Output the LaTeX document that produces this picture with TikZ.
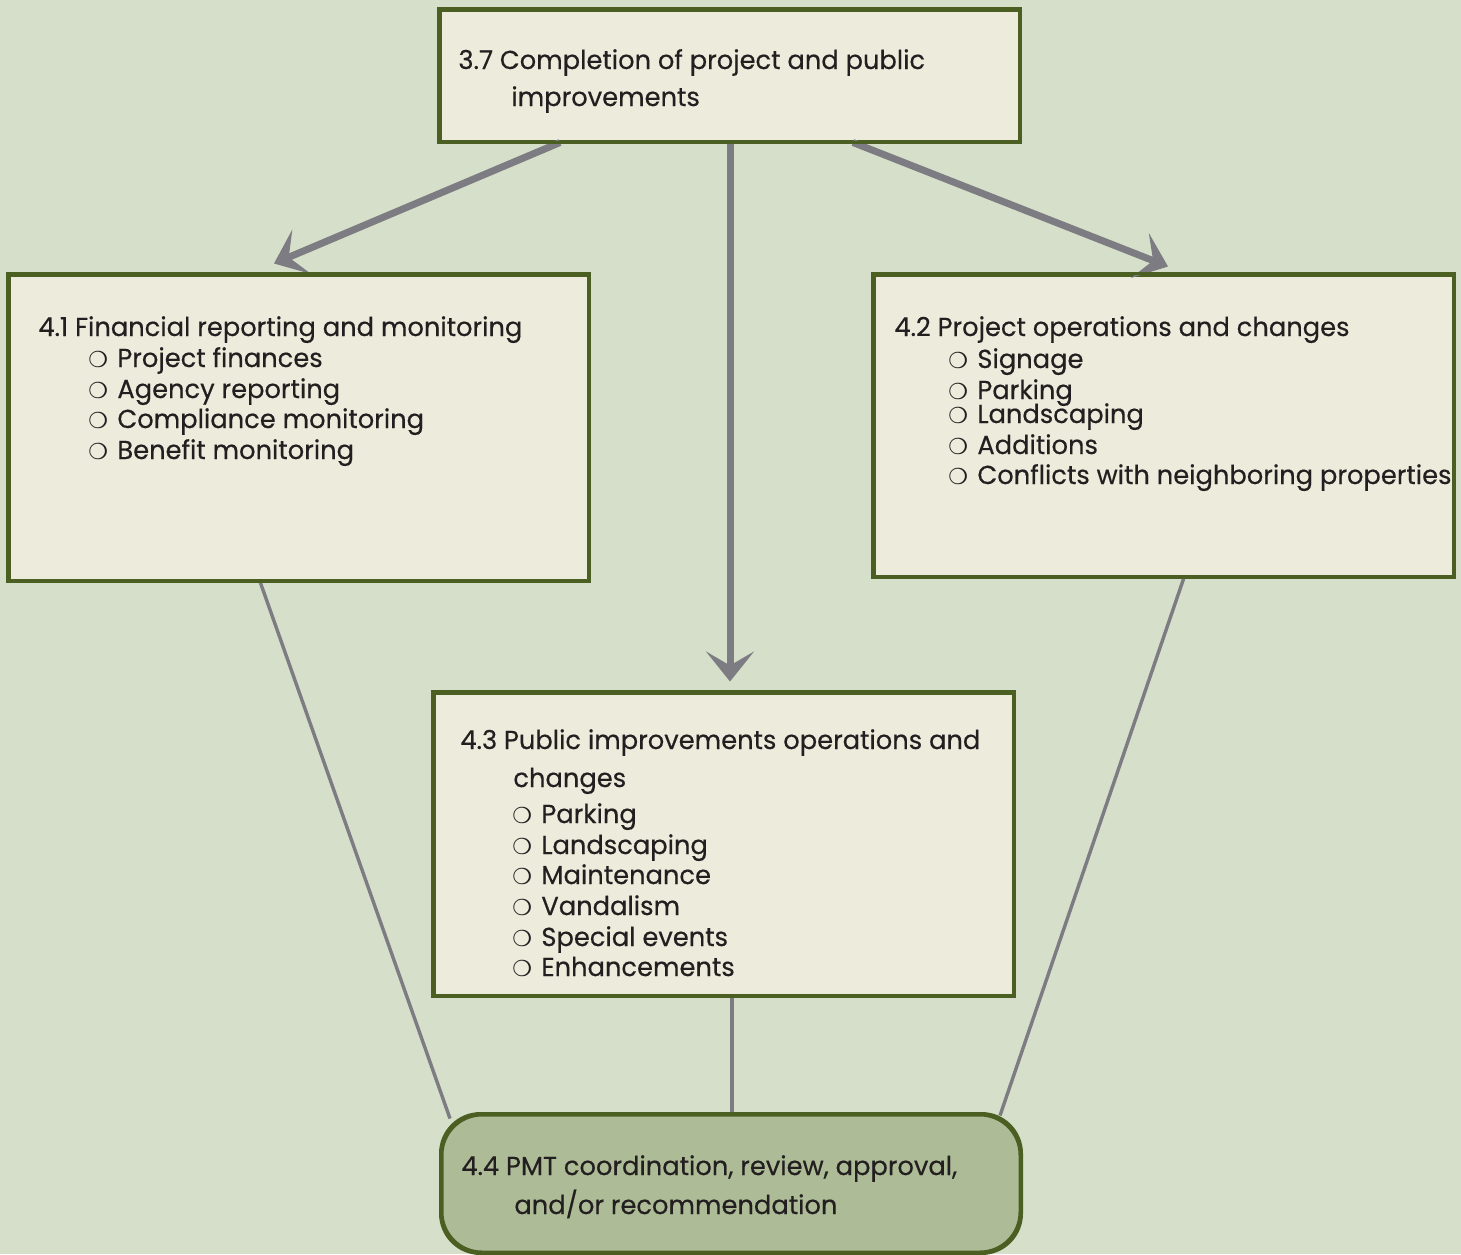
\documentclass[tikz,border=0pt]{standalone}
\usepackage{fontspec}
\setmainfont[FakeStretch=0.99,FakeBold=0.4]{Poppins}
\newfontfamily\symfont{DejaVu Sans}
\usetikzlibrary{arrows.meta}
\definecolor{bgc}{HTML}{D6DFC9}
\definecolor{boxfill}{HTML}{EDECDC}
\definecolor{boxline}{HTML}{4B5F23}
\definecolor{arrgray}{HTML}{7C7C82}
\definecolor{pmtfill}{HTML}{ADBC96}
\definecolor{txtc}{HTML}{231F20}
\newcommand\bitem[1]{\makebox[14.5pt][l]{\symfont\fontsize{11}{11}\selectfont ❍}#1}
\begin{document}
\begin{tikzpicture}[x=0.5pt,y=-0.5pt,
  boxnode/.style={draw=boxline,line width=1.5pt,fill=boxfill,inner sep=0pt,minimum width=289.5pt},
  pmtnode/.style={draw=boxline,line width=1.5pt,fill=pmtfill,inner sep=0pt,minimum width=289pt,rounded corners=20pt},
  txt/.style={anchor=base west,inner sep=0pt,text=txtc,font=\fontsize{13}{15}\selectfont},
  arr/.style={draw=arrgray,line width=3.5pt,-{Stealth[length=15pt,width=24pt,inset=7pt]}},
  lnk/.style={draw=arrgray,line width=1.7pt}]
\useasboundingbox[fill=bgc] (0,0) rectangle (1461,1254);
% boxes
\node[boxnode,minimum height=65.5pt] (b37) at (729.5,75.5) {};
\node[boxnode,minimum height=152.5pt] (b41) at (298.5,427.5) {};
\node[boxnode,minimum height=150.5pt] (b42) at (1163.5,425.5) {};
\node[boxnode,minimum height=151pt] (b43) at (723.5,844) {};
\node[pmtnode,minimum height=68.5pt] (b44) at (731,1183.5) {};
% connectors
\draw[lnk] ([shift={(-38.5,0)}]b41.south) -- ([shift={(-281,5)}]b44.north);
\draw[lnk] ([shift={(8.5,0)}]b43.south) -- ([shift={(1,0)}]b44.north);
\draw[lnk] ([shift={(20.5,0)}]b42.south) -- ([shift={(269,2)}]b44.north);
\draw[arr] ([shift={(-169.5,0)}]b37.south) -- ([shift={(-24.5,-10)}]b41.north);
\draw[arr] ([shift={(0.5,0)}]b37.south) -- ([shift={(6.5,-10)}]b43.north);
\draw[arr] ([shift={(123.5,0)}]b37.south) -- ([shift={(4.5,-7)}]b42.north);
% redraw box borders over connector ends
\draw[boxline,line width=1.5pt] (b41.south west) rectangle (b41.north east);
\draw[boxline,line width=1.5pt] (b42.south west) rectangle (b42.north east);
\draw[boxline,line width=1.5pt] (b43.south west) rectangle (b43.north east);
\draw[boxline,line width=1.5pt] (b37.south west) rectangle (b37.north east);
\draw[boxline,line width=1.5pt,rounded corners=20pt] (b44.south west) rectangle (b44.north east);
% texts 3.7
\node[txt] (t37a) at (458,69) {3.7 Completion of project and public};
\node[txt] (t37b) at (511,106) {improvements};
% 4.1
\node[txt] (t41a) at (38,336) {4.1 Financial reporting and monitoring};
\node[txt] (t41b) at (88,367) {\bitem{Project finances}};
\node[txt] (t41c) at (88,398) {\bitem{Agency reporting}};
\node[txt] (t41d) at (88,428) {\bitem{Compliance monitoring}};
\node[txt] (t41e) at (88,459) {\bitem{Benefit monitoring}};
% 4.2
\node[txt] (t42a) at (894,336) {4.2 Project operations and changes};
\node[txt] (t42b) at (948,368) {\bitem{Signage}};
\node[txt] (t42c) at (948,399) {\bitem{Parking}};
\node[txt] (t42d) at (948,423) {\bitem{Landscaping}};
\node[txt] (t42e) at (948,454) {\bitem{Additions}};
\node[txt] (t42f) at (948,484) {\bitem{Conflicts with neighboring properties}};
% 4.3
\node[txt] (t43a) at (460,749) {4.3 Public improvements operations and};
\node[txt] (t43b) at (513,787) {changes};
\node[txt] (t43c) at (512,823) {\bitem{Parking}};
\node[txt] (t43d) at (512,854) {\bitem{Landscaping}};
\node[txt] (t43e) at (512,884) {\bitem{Maintenance}};
\node[txt] (t43f) at (512,915) {\bitem{Vandalism}};
\node[txt] (t43g) at (512,946) {\bitem{Special events}};
\node[txt] (t43h) at (512,976) {\bitem{Enhancements}};
% 4.4
\node[txt] (t44a) at (461,1175) {4.4 PMT coordination, review, approval,};
\node[txt] (t44b) at (514,1214) {and/or recommendation};
\end{tikzpicture}
\end{document}
